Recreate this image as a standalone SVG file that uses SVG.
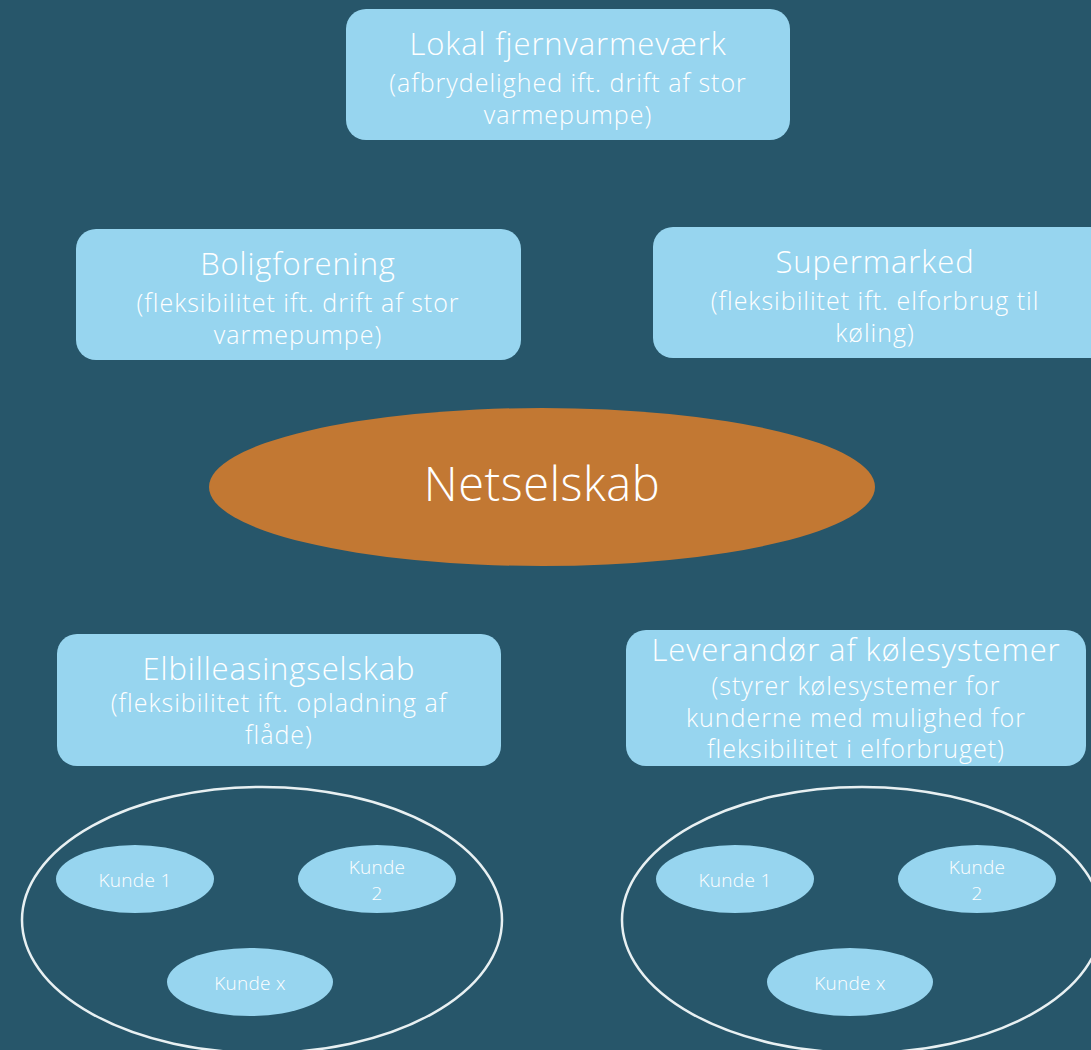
<svg xmlns="http://www.w3.org/2000/svg" width="1091" height="1050" viewBox="0 0 1091 1050">
<style>
.box{fill:#97d5ef}
.t{font-family:"Open Sans","Liberation Sans",sans-serif;font-weight:300;fill:#ffffff;text-anchor:middle}
.h{font-size:31px;letter-spacing:0.9px}
.s{font-size:25px;letter-spacing:1px}
.k{font-size:19px;letter-spacing:0.3px}
.kun{fill:#97d5ef}
.grp{fill:none;stroke:#e8f0f2;stroke-width:2.5}
</style>
<rect width="1091" height="1050" fill="#27566a"/>
<g id="fjernvarme">
<rect class="box" x="346" y="9" width="444" height="131" rx="20"/>
<text class="t h" x="568" y="55">Lokal fjernvarmeværk</text>
<text class="t s" x="568" y="92">(afbrydelighed ift. drift af stor</text>
<text class="t s" x="568" y="124">varmepumpe)</text>
</g>
<g id="boligforening">
<rect class="box" x="76" y="229" width="445" height="131" rx="20"/>
<text class="t h" x="298" y="275">Boligforening</text>
<text class="t s" x="298" y="312">(fleksibilitet ift. drift af stor</text>
<text class="t s" x="298" y="344">varmepumpe)</text>
</g>
<g id="supermarked">
<rect class="box" x="653" y="227" width="460" height="131" rx="20"/>
<text class="t h" x="875" y="273">Supermarked</text>
<text class="t s" x="875" y="310">(fleksibilitet ift. elforbrug til</text>
<text class="t s" x="875" y="342">køling)</text>
</g>
<g id="netselskab">
<ellipse cx="542" cy="487" rx="333" ry="79" fill="#c27833"/>
<text class="t" x="542" y="501" font-size="47" letter-spacing="0.5">Netselskab</text>
</g>
<g id="elbil">
<rect class="box" x="57" y="634" width="444" height="132" rx="20"/>
<text class="t h" x="279" y="680">Elbilleasingselskab</text>
<text class="t s" x="279" y="712">(fleksibilitet ift. opladning af</text>
<text class="t s" x="279" y="744">flåde)</text>
</g>
<g id="leverandor">
<rect class="box" x="626" y="630" width="460" height="136" rx="20"/>
<text class="t h" x="856" y="661">Leverandør af kølesystemer</text>
<text class="t s" x="856" y="695">(styrer kølesystemer for</text>
<text class="t s" x="856" y="727">kunderne med mulighed for</text>
<text class="t s" x="856" y="758">fleksibilitet i elforbruget)</text>
</g>
<g id="kunder-elbil">
<ellipse class="grp" cx="262" cy="920" rx="240" ry="133"/>
<ellipse class="kun" cx="135" cy="879" rx="79" ry="34"/>
<text class="t k" x="135" y="887">Kunde 1</text>
<ellipse class="kun" cx="377" cy="879" rx="79" ry="34"/>
<text class="t k" x="377" y="874">Kunde</text>
<text class="t k" x="377" y="900">2</text>
<ellipse class="kun" cx="250" cy="982" rx="83" ry="34"/>
<text class="t k" x="250" y="990">Kunde x</text>
</g>
<g id="kunder-koel">
<ellipse class="grp" cx="862" cy="920" rx="240" ry="133"/>
<ellipse class="kun" cx="735" cy="879" rx="79" ry="34"/>
<text class="t k" x="735" y="887">Kunde 1</text>
<ellipse class="kun" cx="977" cy="879" rx="79" ry="34"/>
<text class="t k" x="977" y="874">Kunde</text>
<text class="t k" x="977" y="900">2</text>
<ellipse class="kun" cx="850" cy="982" rx="83" ry="34"/>
<text class="t k" x="850" y="990">Kunde x</text>
</g>
<g id="connectors"/>
</svg>
